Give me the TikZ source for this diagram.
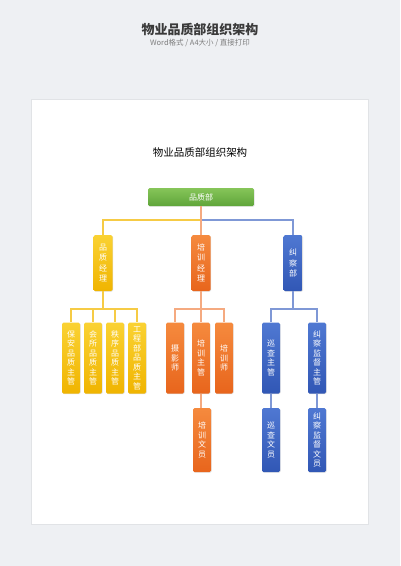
\documentclass[tikz,border=0pt]{standalone}
\usepackage{fontspec}
\setmainfont{Noto Sans CJK SC}
\usetikzlibrary{shadows}

\tikzstyle{org-box}=[rounded corners=1.5pt, inner sep=0pt, text=white, align=center,
  font=\fontsize{8}{9.5}\selectfont,
  drop shadow={shadow xshift=0.7pt, shadow yshift=-0.7pt, opacity=0.25}]
\tikzstyle{org-green}=[org-box, top color=OrgGreenTop, bottom color=OrgGreen]
\tikzstyle{org-yellow}=[org-box, top color=OrgYellowTop, bottom color=OrgYellow]
\tikzstyle{org-orange}=[org-box, top color=OrgOrangeTop, bottom color=OrgOrange]
\tikzstyle{org-blue}=[org-box, top color=OrgBlueTop, bottom color=OrgBlue]
\tikzstyle{mid-box}=[minimum width=19pt, minimum height=56pt, font=\fontsize{8}{10.5}\selectfont]
\tikzstyle{low-box}=[minimum width=18pt, minimum height=71pt]
\tikzstyle{end-box}=[minimum width=18pt, minimum height=64pt]
\tikzstyle{yline}=[OrgYellowLine, line width=1.2pt]
\tikzstyle{oline}=[OrgOrangeLine, line width=1.2pt]
\tikzstyle{bline}=[OrgBlueLine, line width=1.2pt]
\definecolor{PageGray}{HTML}{EEF0F3}
\definecolor{OrgGreen}{HTML}{5FA53A}
\definecolor{OrgGreenTop}{HTML}{86C559}
\definecolor{OrgYellow}{HTML}{F0B400}
\definecolor{OrgYellowTop}{HTML}{FAD233}
\definecolor{OrgOrange}{HTML}{E8651C}
\definecolor{OrgOrangeTop}{HTML}{F58A3E}
\definecolor{OrgBlue}{HTML}{3157B5}
\definecolor{OrgBlueTop}{HTML}{4F78D2}
\definecolor{OrgYellowLine}{HTML}{F6CB45}
\definecolor{OrgOrangeLine}{HTML}{F5AA80}
\definecolor{OrgBlueLine}{HTML}{7F98D6}

\begin{document}
\begin{tikzpicture}[x=1pt, y=-1pt]
  \useasboundingbox (0,0) rectangle (400,566);
  \fill[PageGray] (0,0) rectangle (400,566);
  \fill[black, opacity=0.05] (31,99) rectangle (369,525);
  \fill[white] (32,100) rectangle (368,524);

  % headings
  \node (head-title) at (200,29) {\fontsize{13}{15}\selectfont\bfseries\color[HTML]{3A3A3A}物业品质部组织架构};
  \node (head-sub) at (200,43.5) {\fontsize{7.5}{9}\selectfont\color[HTML]{7E7E7E}Word格式 / A4大小 / 直接打印};
  \node (org-title) at (200,152) {\fontsize{10.5}{12}\selectfont 物业品质部组织架构};

  % connectors
  \coordinate (bus-top) at (0,220);
  \coordinate (bus-low) at (0,309);

  % top
  \node (org-top) at (201,197) [org-green, minimum width=106pt, minimum height=18pt] {品质部};

  % second level
  \node (org-pz) at (103,263) [org-yellow, mid-box] {品\\质\\经\\理};
  \node (org-px) at (201,263) [org-orange, mid-box] {培\\训\\经\\理};
  \node (org-jc) at (293,263) [org-blue, mid-box] {纠\\察\\部};

  % third level
  \node (org-ba) at (71,358) [org-yellow, low-box] {保\\安\\品\\质\\主\\管};
  \node (org-hs) at (93,358) [org-yellow, low-box] {会\\所\\品\\质\\主\\管};
  \node (org-zx) at (115,358) [org-yellow, low-box] {秩\\序\\品\\质\\主\\管};
  \node (org-gc) at (137,358) [org-yellow, low-box] {工\\程\\部\\品\\质\\主\\管};
  \node (org-sy) at (175,358) [org-orange, low-box] {摄\\影\\师};
  \node (org-pxzg) at (201,358) [org-orange, low-box] {培\\训\\主\\管};
  \node (org-pxs) at (224,358) [org-orange, low-box] {培\\训\\师};
  \node (org-xc) at (271,358) [org-blue, low-box] {巡\\查\\主\\管};
  \node (org-jd) at (317,358) [org-blue, low-box] {纠\\察\\监\\督\\主\\管};

  % fourth level
  \node (org-pxwy) at (202,440) [org-orange, end-box] {培\\训\\文\\员};
  \node (org-xcwy) at (271,440) [org-blue, end-box] {巡\\查\\文\\员};
  \node (org-jdwy) at (317,440) [org-blue, end-box] {纠\\察\\监\\督\\文\\员};

  \draw[yline] (org-top.south) -- (org-top.south |- bus-top) -| (org-pz.north);
  \draw[bline] (org-top.south) -- (org-top.south |- bus-top) -| (org-jc.north);
  \draw[oline] (org-top.south) -- (org-px.north);
  \foreach \c in {ba,hs,zx,gc}
    \draw[yline] (org-pz.south) -- (org-pz.south |- bus-low) -| (org-\c.north);
  \foreach \c in {sy,pxzg,pxs}
    \draw[oline] (org-px.south) -- (org-px.south |- bus-low) -| (org-\c.north);
  \foreach \c in {xc,jd}
    \draw[bline] (org-jc.south) -- (org-jc.south |- bus-low) -| (org-\c.north);
  \draw[oline] (org-pxzg.south) -- (org-pxzg.south |- org-pxwy.north);
  \draw[bline] (org-xc.south) -- (org-xcwy.north);
  \draw[bline] (org-jd.south) -- (org-jdwy.north);
\end{tikzpicture}
\end{document}
